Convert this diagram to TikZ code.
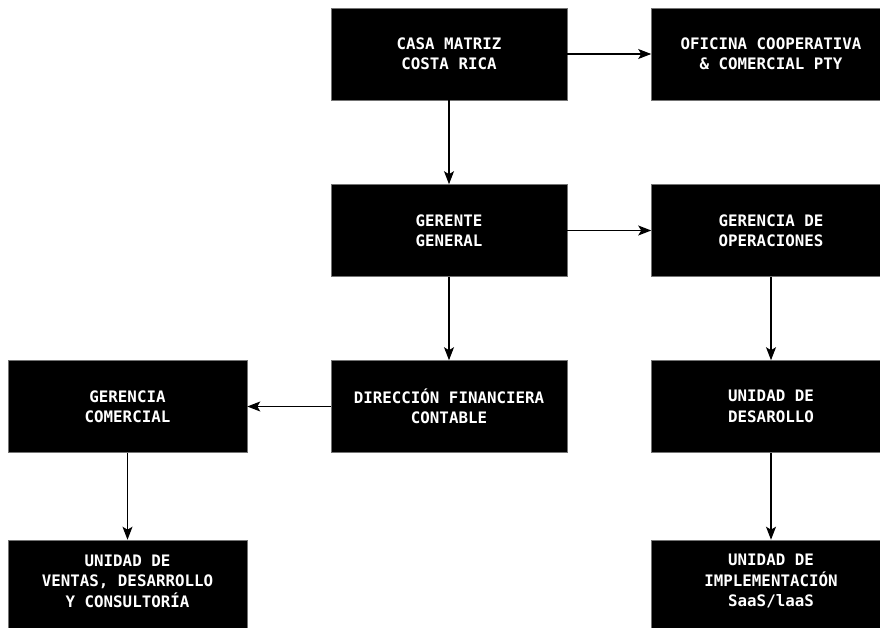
\documentclass[tikz,border=0pt]{standalone}
\usepackage{fontspec}
\newfontfamily\boxfont{DejaVu Sans Mono Bold}
\usetikzlibrary{arrows.meta}

\tikzset{
  unit/.style={rectangle, fill=black, draw=black!55, line width=0.6pt,
    text=white, align=center, inner sep=0pt,
    font=\boxfont\fontsize{15.8}{20.5}\selectfont,
    minimum height=92pt},
  midcol/.style={unit, minimum width=236pt},
  sidecol/.style={unit, minimum width=239pt},
  link/.style={line width=1.1pt, -{Stealth[length=13pt,width=10pt,inset=3pt]}},
  lowtext/.style={text=white, align=center,
    font=\boxfont\fontsize{15.8}{20.5}\selectfont}
}

\begin{document}
\begin{tikzpicture}[x=1pt, y=-1pt]
  \useasboundingbox (0,0) rectangle (880,628);
  \clip (0,0) rectangle (880,628);

  % top row
  \node[midcol]  (casa)    at (449,54)   {CASA MATRIZ\\COSTA RICA};
  \node[sidecol] (oficina) at (771,54)   {OFICINA COOPERATIVA\\\& COMERCIAL PTY};

  % second row
  \node[midcol]  (gerente) at (449,230.5) {GERENTE\\GENERAL};
  \node[sidecol] (gerops)  at (771,230.5) {GERENCIA DE\\OPERACIONES};

  % third row
  \node[sidecol] (gercom)  at (127.5,406.5) {GERENCIA\\COMERCIAL};
  \node[midcol]  (finanza) at (449,406.5)   {DIRECCIÓN FINANCIERA\\CONTABLE};
  \node[sidecol] (desarr)  at (771,406.5)   {UNIDAD DE\\DESAROLLO};

  % bottom row (boxes run past the lower edge)
  \node[sidecol, minimum height=93pt] (ventas) at (127.5,586.5)
    {};
  \node[lowtext] (ventastxt) at (127.5,581)
    {UNIDAD DE\\VENTAS, DESARROLLO\\Y CONSULTORÍA};
  \node[sidecol, minimum height=93pt] (implem) at (771,586.5)
    {};
  \node[lowtext] (implemtxt) at (771,581)
    {UNIDAD DE\\IMPLEMENTACIÓN\\SaaS/laaS};

  % connectors
  \draw[link] (casa.east) -- (oficina.west);
  \draw[link] (casa.south) -- (gerente.north);
  \draw[link] (gerente.east) -- (gerops.west);
  \draw[link] (gerente.south) -- (finanza.north);
  \draw[link] (finanza.west) -- (gercom.east);
  \draw[link] (gerops.south) -- (desarr.north);
  \draw[link] (gercom.south) -- (ventas.north);
  \draw[link] (desarr.south) -- (implem.north);
\end{tikzpicture}
\end{document}
